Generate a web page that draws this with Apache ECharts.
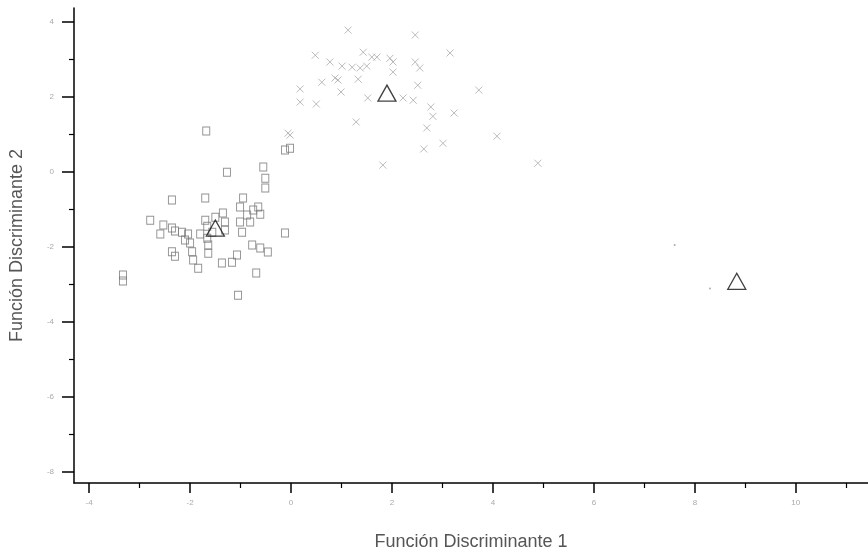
<!DOCTYPE html>
<html>
<head>
<meta charset="utf-8">
<script src="https://cdn.jsdelivr.net/npm/echarts@6/dist/echarts.min.js"></script>
<style>html,body{margin:0;padding:0;background:#fff}#c{width:868px;height:554px}</style>
</head>
<body>
<div id="c"></div>
<script>
// Group 1 (squares)
const group1 = [
  [-1.68,1.09],[-0.12,0.58],[-0.02,0.63],[-1.27,-0.01],[-0.55,0.13],[-0.51,-0.17],[-0.51,-0.43],
  [-2.36,-0.75],[-1.70,-0.70],[-0.95,-0.70],[-1.01,-0.94],[-0.65,-0.94],[-2.79,-1.29],[-2.53,-1.42],
  [-2.59,-1.66],[-2.36,-1.50],[-2.30,-1.58],[-2.16,-1.61],[-2.04,-1.66],[-2.10,-1.82],[-1.70,-1.29],
  [-1.66,-1.45],[-1.50,-1.21],[-1.35,-1.10],[-1.31,-1.34],[-1.31,-1.55],[-1.66,-1.77],[-0.87,-1.15],
  [-0.81,-1.34],[-0.75,-1.02],[-0.61,-1.13],[-0.12,-1.63],[-2.36,-2.13],[-2.30,-2.25],[-1.96,-2.13],
  [-1.94,-2.35],[-1.84,-2.57],[-1.64,-1.95],[-1.64,-2.17],[-1.37,-2.43],[-1.17,-2.41],[-1.07,-2.22],
  [-0.77,-1.95],[-0.61,-2.03],[-0.46,-2.14],[-0.69,-2.70],[-1.05,-3.29],[-3.33,-2.75],[-3.33,-2.91],
  [-1.01,-1.34],[-0.97,-1.61],[-2.00,-1.90],[-1.80,-1.66],[-1.56,-1.61]
];
// Group 2 (crosses)
const group2 = [
  [1.13,3.78],[2.46,3.65],[3.15,3.17],[0.48,3.11],[0.77,2.93],[1.01,2.82],[1.43,3.19],[1.60,3.06],
  [1.70,3.06],[1.96,3.03],[1.37,2.77],[1.50,2.82],[1.21,2.79],[0.87,2.50],[1.33,2.47],[2.02,2.66],
  [2.02,2.93],[2.46,2.93],[2.55,2.77],[0.61,2.39],[0.93,2.45],[0.99,2.13],[0.18,2.21],[0.18,1.86],
  [0.50,1.81],[1.52,1.97],[2.22,1.97],[2.42,1.91],[2.51,2.31],[3.72,2.18],[2.77,1.73],[2.81,1.48],
  [3.23,1.57],[1.29,1.33],[2.69,1.17],[3.01,0.76],[4.08,0.95],[2.63,0.61],[1.82,0.18],[4.89,0.23],
  [-0.02,0.98],[-0.06,1.03]
];
// Group 3 (dots)
const group3 = [[7.60,-1.95],[8.30,-3.11]];
// Group centroids
const centroids = [[-1.50,-1.50],[1.90,2.10],[8.83,-2.92]];
// Tick labels
const xTicks = [-4,-2,0,2,4,6,8,10];
const xMinor = [-3,-1,1,3,5,7,9,11];
const yTicks = [4,2,0,-2,-4,-6,-8];
const yMinor = [3,1,-1,-3,-5,-7];

const XMIN=-4.30, XMAX=11.43, YMIN=-8.30, YMAX=4.37;
const chart = echarts.init(document.getElementById('c'));
const lblStyle = {color:'#aaa', fontSize:8, fontFamily:'Liberation Sans'};
chart.setOption({
  animation:false,
  grid:{left:74, right:0, top:8, bottom:71, containLabel:false, outerBoundsMode:'none'},
  xAxis:[{
    type:'value', min:XMIN, max:XMAX, position:'bottom',
    name:'Función Discriminante 1', nameLocation:'middle', nameGap:50,
    nameTextStyle:{color:'#555', fontSize:18, fontFamily:'Liberation Sans'},
    axisLine:{show:true, onZero:false, lineStyle:{color:'#000', width:1.5}},
    axisTick:{show:true, length:10, customValues:xTicks, lineStyle:{color:'#000', width:1.5}},
    axisLabel:Object.assign({customValues:xTicks, margin:16}, lblStyle),
    splitLine:{show:false}
  },{
    type:'value', min:XMIN, max:XMAX, position:'bottom', gridIndex:0,
    axisLine:{show:false, onZero:false},
    axisTick:{show:true, length:5, customValues:xMinor, lineStyle:{color:'#000', width:1.2}},
    axisLabel:{show:false}, splitLine:{show:false}
  }],
  yAxis:[{
    type:'value', min:YMIN, max:YMAX, position:'left',
    name:'Función Discriminante 2', nameLocation:'middle', nameGap:48, nameRotate:90,
    nameTextStyle:{color:'#555', fontSize:18, fontFamily:'Liberation Sans'},
    axisLine:{show:true, onZero:false, lineStyle:{color:'#000', width:1.5}},
    axisTick:{show:true, length:12, customValues:yTicks, lineStyle:{color:'#000', width:1.5}},
    axisLabel:Object.assign({customValues:yTicks, margin:20}, lblStyle),
    splitLine:{show:false}
  },{
    type:'value', min:YMIN, max:YMAX, position:'left',
    axisLine:{show:false, onZero:false},
    axisTick:{show:true, length:5, customValues:yMinor, lineStyle:{color:'#000', width:1.2}},
    axisLabel:{show:false}, splitLine:{show:false}
  }],
  series:[
    {type:'scatter', data:group1, symbol:'rect', symbolSize:[7,8],
     itemStyle:{color:'rgba(0,0,0,0)', borderColor:'#777', borderWidth:1}},
    {type:'scatter', data:group2, symbol:'path://M0,0L10,10M10,0L0,10', symbolSize:7,
     itemStyle:{color:'rgba(0,0,0,0)', borderColor:'#aaa', borderWidth:1}},
    {type:'scatter', data:group3, symbol:'circle', symbolSize:2,
     itemStyle:{color:'#999'}},
    {type:'scatter', data:centroids, symbol:'triangle', symbolSize:[18,16],
     itemStyle:{color:'rgba(0,0,0,0)', borderColor:'#111', borderWidth:1.3}, z:5}
  ]
});
</script>
</body>
</html>
